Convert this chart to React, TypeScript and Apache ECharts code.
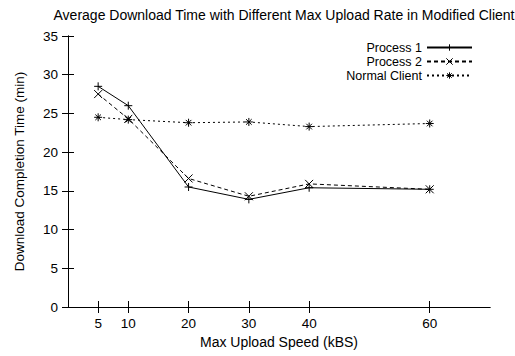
import React, { useEffect, useRef } from "react";
import * as echarts from "echarts";

const xValues = [5, 10, 20, 30, 40, 60];
const process1 = [28.5, 26.0, 15.5, 13.9, 15.4, 15.2];
const process2 = [27.5, 24.3, 16.6, 14.3, 15.9, 15.2];
const normalClient = [24.5, 24.2, 23.8, 23.9, 23.3, 23.7];

const FONT = "Liberation Sans, Arial, sans-serif";
const plusPath = "path://M0,5H10M5,0V10";
const crossPath = "path://M0,0L10,10M10,0L0,10";
const starPath = "path://M0,5H10M5,0V10M1.5,1.5L8.5,8.5M8.5,1.5L1.5,8.5";

function pairs(vals: number[]) {
  return xValues.map((x, i) => [x, vals[i]]);
}

export default function App() {
  const ref = useRef<HTMLDivElement>(null);
  useEffect(() => {
    if (!ref.current) return;
    const chart = echarts.init(ref.current, null, { renderer: "svg" });
    const axisLine = { show: true, lineStyle: { color: "#000", width: 1 } };
    const xTick = () => ({ show: true, inside: true, length: 6, customValues: xValues, lineStyle: { color: "#000" } });
    const yTick = () => ({ show: true, inside: true, length: 6, lineStyle: { color: "#000" } });
    const mkSeries = (name: string, vals: number[], type: any, symbol: string) => ({
      name,
      type: "line",
      data: pairs(vals),
      symbol,
      symbolSize: 8,
      showSymbol: true,
      lineStyle: { color: "#000", width: 1, type },
      itemStyle: { color: "transparent", borderColor: "#000", borderWidth: 1 },
      emphasis: { disabled: true },
    });
    const legendBase = {
      orient: "horizontal",
      align: "right",
      right: 42,
      itemWidth: 45,
      itemHeight: 8,
      padding: 0,
      itemStyle: { color: "transparent", borderColor: "#000", borderWidth: 1 },
      textStyle: { fontFamily: FONT, fontSize: 12.5, color: "#000", lineHeight: 13 },
    };
    chart.setOption({
      animation: false,
      title: {
        text: "Average Download Time with Different Max Upload Rate in Modified Client",
        left: 279,
        textAlign: "center",
        top: 3,
        textStyle: { fontFamily: FONT, fontSize: 14, fontWeight: "normal", color: "#000" },
      },
      legend: [
        { ...legendBase, top: 41, data: ["Process 1"] },
        { ...legendBase, top: 55, data: ["Process 2"] },
        { ...legendBase, top: 69, data: ["Normal Client"] },
      ],
      grid: { left: 68, right: 25, top: 36, bottom: 49 },
      xAxis: [
        {
          type: "value",
          min: 0,
          max: 70,
          axisLine,
          axisTick: xTick(),
          splitLine: { show: false },
          axisLabel: { customValues: xValues, color: "#000", fontFamily: FONT, fontSize: 13.5, margin: 9 },
          name: "Max Upload Speed (kBS)",
          nameLocation: "middle",
          nameGap: 28,
          nameTextStyle: { fontFamily: FONT, fontSize: 14, color: "#000" },
        },
        {
          type: "value",
          position: "top",
          min: 0,
          max: 70,
          axisLine,
          axisTick: xTick(),
          splitLine: { show: false },
          axisLabel: { show: false },
        },
      ],
      yAxis: [
        {
          type: "value",
          min: 0,
          max: 35,
          interval: 5,
          axisLine,
          axisTick: yTick(),
          splitLine: { show: false },
          axisLabel: { color: "#000", fontFamily: FONT, fontSize: 13.5, margin: 10 },
          name: "Download Completion Time (min)",
          nameLocation: "middle",
          nameGap: 42,
          nameTextStyle: { fontFamily: FONT, fontSize: 13.5, color: "#000" },
        },
        {
          type: "value",
          position: "right",
          min: 0,
          max: 35,
          interval: 5,
          axisLine,
          axisTick: yTick(),
          splitLine: { show: false },
          axisLabel: { show: false },
        },
      ],
      series: [
        mkSeries("Process 1", process1, "solid", plusPath),
        mkSeries("Process 2", process2, [4, 3], crossPath),
        mkSeries("Normal Client", normalClient, [2, 3], starPath),
      ],
    });
    return () => chart.dispose();
  }, []);
  return <div ref={ref} style={{ width: 515, height: 356, position: "absolute", left: 0, top: 0 }} />;
}
